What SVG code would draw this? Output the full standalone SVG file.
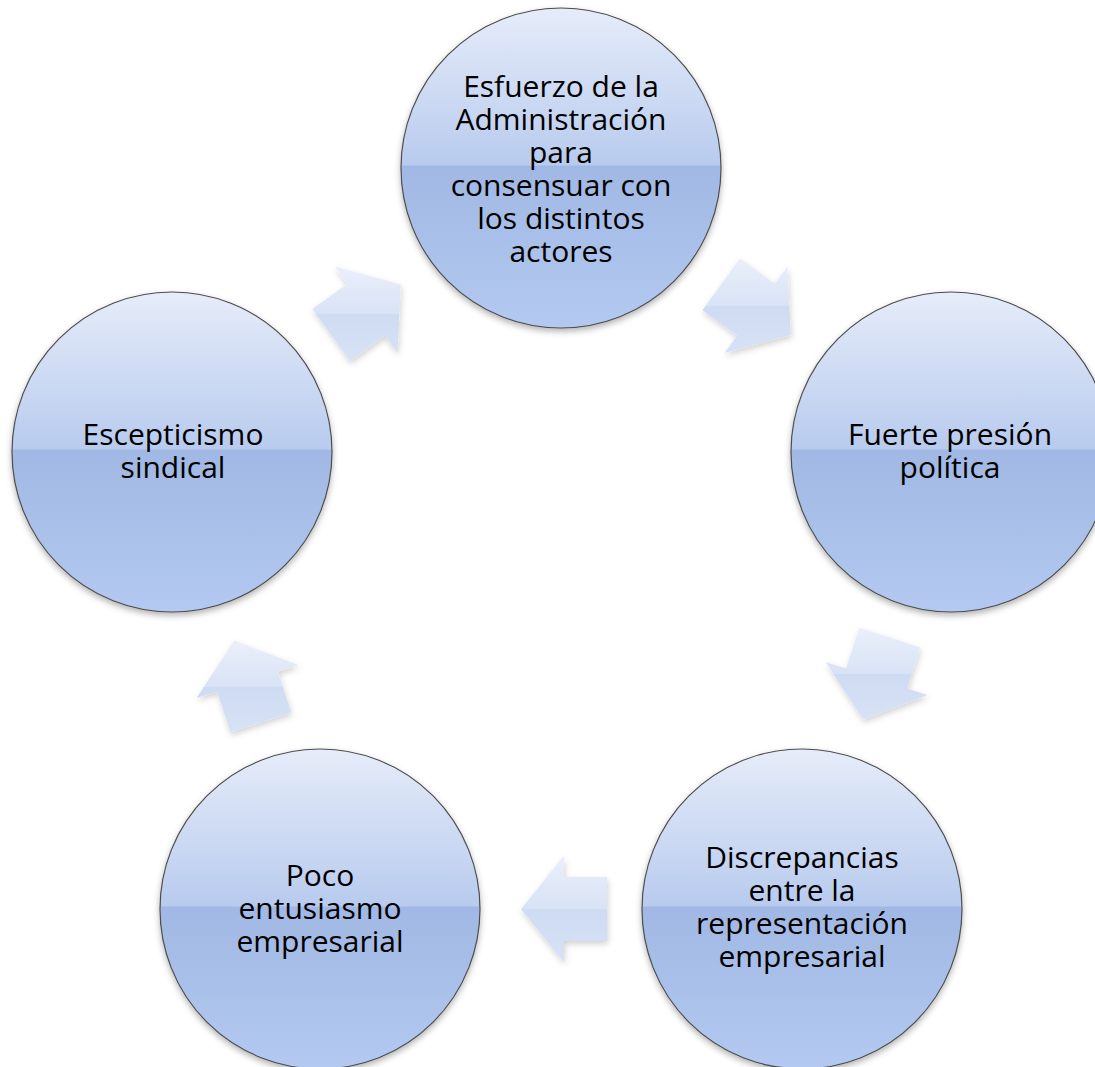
<svg xmlns="http://www.w3.org/2000/svg" width="1095" height="1067" viewBox="0 0 1095 1067">
<defs>
<linearGradient id="gc" x1="0" y1="0" x2="0" y2="1">
<stop offset="0" stop-color="#e6ecf9"/>
<stop offset="0.49" stop-color="#b8cbee"/>
<stop offset="0.495" stop-color="#a0b8e3"/>
<stop offset="1" stop-color="#b3c9f1"/>
</linearGradient>
<linearGradient id="ga" x1="0" y1="0" x2="0" y2="1">
<stop offset="0" stop-color="#eaeffa"/>
<stop offset="0.5" stop-color="#d9e3f6"/>
<stop offset="0.505" stop-color="#cfdbf2"/>
<stop offset="1" stop-color="#d7e2f6"/>
</linearGradient>
<filter id="sc" x="-10%" y="-10%" width="120%" height="125%">
<feDropShadow dx="0" dy="3" stdDeviation="3" flood-color="#000" flood-opacity="0.3"/>
</filter>
<filter id="sa" x="-20%" y="-20%" width="150%" height="150%">
<feDropShadow dx="1" dy="3" stdDeviation="3" flood-color="#000" flood-opacity="0.18"/>
</filter>
</defs>
<style>
.n circle{fill:url(#gc);stroke:#4d4d4d;stroke-width:1.2;filter:url(#sc)}
.n text{font-family:"Open Sans","Liberation Sans",sans-serif;font-size:30px;fill:#000;text-anchor:middle}
.c polygon{fill:url(#ga);filter:url(#sa)}
</style>
<g id="connectors" class="c">
<polygon points="790.8,335.0 787.4,266.4 774.8,283.8 740.0,258.5 702.4,310.3 737.2,335.6 724.5,353.0"/>
<polygon points="863.2,719.4 927.4,695.0 906.9,688.4 920.2,647.5 859.4,627.7 846.1,668.6 825.6,662.0"/>
<polygon points="521,909 564,962.5 564,941 607,941 607,877 564,877 564,855.5"/>
<polygon points="234.2,640.6 196.6,698.0 217.1,691.4 230.4,732.3 291.2,712.5 277.9,671.6 298.4,665.0"/>
<polygon points="400.8,284.4 334.6,266.4 347.2,283.8 312.4,309.1 350.0,360.9 384.8,335.6 397.5,353.0"/>
</g>
<g id="n1" class="n">
<circle cx="561" cy="168" r="160"/>
<text x="561" y="97">Esfuerzo de la</text>
<text x="561" y="130">Administración</text>
<text x="561" y="163">para</text>
<text x="561" y="196">consensuar con</text>
<text x="561" y="229">los distintos</text>
<text x="561" y="262">actores</text>
</g>
<g id="n2" class="n">
<circle cx="951" cy="452" r="160"/>
<text x="950" y="445">Fuerte presión</text>
<text x="950" y="478">política</text>
</g>
<g id="n3" class="n">
<circle cx="802" cy="909" r="160"/>
<text x="802" y="868">Discrepancias</text>
<text x="802" y="901">entre la</text>
<text x="802" y="934">representación</text>
<text x="802" y="967">empresarial</text>
</g>
<g id="n4" class="n">
<circle cx="320" cy="909" r="160"/>
<text x="320" y="886">Poco</text>
<text x="320" y="919">entusiasmo</text>
<text x="320" y="952">empresarial</text>
</g>
<g id="n5" class="n">
<circle cx="172" cy="452" r="160"/>
<text x="173" y="445">Escepticismo</text>
<text x="173" y="478">sindical</text>
</g>
</svg>
